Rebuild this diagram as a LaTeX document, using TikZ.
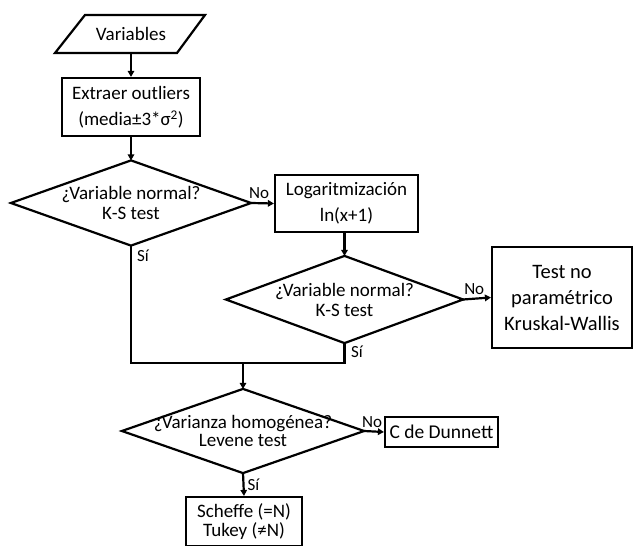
\documentclass[tikz,border=0pt]{standalone}
\usepackage{fontspec}
\setmainfont{Carlito}
\usetikzlibrary{shapes.geometric,arrows.meta}
\begin{document}
\begin{tikzpicture}[x=1pt,y=-1pt,
  line width=2.2pt,
  every node/.style={font=\fontsize{19}{22}\selectfont},
  procbox/.style={draw,rectangle,align=center,inner sep=1pt},
  dec/.style={rectangle,align=center,inner sep=0pt,
    font=\fontsize{19}{20}\selectfont},
  lbl/.style={font=\fontsize{17}{18}\selectfont,inner sep=0pt},
  arr/.style={-{Triangle[length=6pt,width=6.5pt]}}]
\useasboundingbox (0,0) rectangle (633,546);
% input
\draw[line join=miter] (55,53) -- (85,15) -- (205,15) -- (177,53) -- cycle;
\node (var) at (131,34) {Variables};
\coordinate (varb) at (131,53);
% outliers
\node[procbox,minimum width=138pt,minimum height=58pt,
  font=\fontsize{19}{26}\selectfont] (out) at (131,107)
  {Extraer outliers\\(media±3*σ\textsuperscript{2})};
% decision 1
\node[dec,minimum width=238pt,minimum height=83pt] (d1) at (131,203)
  {¿Variable normal?\\K-S test};
\draw[line join=miter] (d1.north) -- (d1.east) -- (d1.south) -- (d1.west) -- cycle;
% log
\node[procbox,minimum width=143pt,minimum height=57pt,
  font=\fontsize{19}{26}\selectfont] (log) at (346.5,203.5)
  {Logaritmización\\ln(x+1)};
% decision 2
\node[dec,minimum width=235pt,minimum height=85pt] (d2) at (344.5,299.5)
  {¿Variable normal?\\K-S test};
\draw[line join=miter] (d2.north) -- (d2.east) -- (d2.south) -- (d2.west) -- cycle;
% nonparam
\node[procbox,minimum width=140pt,minimum height=101pt,
  font=\fontsize{20.5}{26}\selectfont] (np) at (562,297.5)
  {Test no\\paramétrico\\Kruskal-Wallis};
% decision 3
\node[dec,minimum width=240pt,minimum height=82pt,
  font=\fontsize{19}{18}\selectfont] (d3) at (243,431)
  {¿Varianza homogénea?\\Levene test};
\draw[line join=miter] (d3.north) -- (d3.east) -- (d3.south) -- (d3.west) -- cycle;
% dunnett
\node[procbox,minimum width=113pt,minimum height=30pt,
  font=\fontsize{19.5}{20}\selectfont] (dun) at (441.5,432)
  {C de Dunnett};
% scheffe
\node[procbox,minimum width=116pt,minimum height=49pt,
  font=\fontsize{19}{19}\selectfont] (sch) at (244,521.5)
  {Scheffe (=N)\\Tukey (≠N)};
% connectors
\coordinate (j1) at (131,363);
\coordinate (j2) at (344.5,363);
\coordinate (jm) at (243,363);
\draw[arr] (varb) -- (out.north);
\draw[arr] (out.south) -- (d1.north);
\draw[arr] (d1.east) -- (log.west) node[lbl,pos=0.35,above=3pt] {No};
\draw[arr] (log.south -| d2.north) -- (d2.north);
\draw[arr] (d2.east) -- (np.west) node[lbl,pos=0.4,above=3pt] {No};
\draw (d1.south) -- (j1) -- (j2) -- (d2.south);
\node[lbl,anchor=west] at (136,256) {Sí};
\node[lbl,anchor=west] at (350,352) {Sí};
\draw[arr] (jm) -- (d3.north);
\draw[arr] (d3.east) -- (dun.west) node[lbl,pos=0.4,above=3pt] {No};
\draw[arr] (d3.south) -- (sch.north) node[lbl,midway,right=3pt] {Sí};
\end{tikzpicture}
\end{document}
